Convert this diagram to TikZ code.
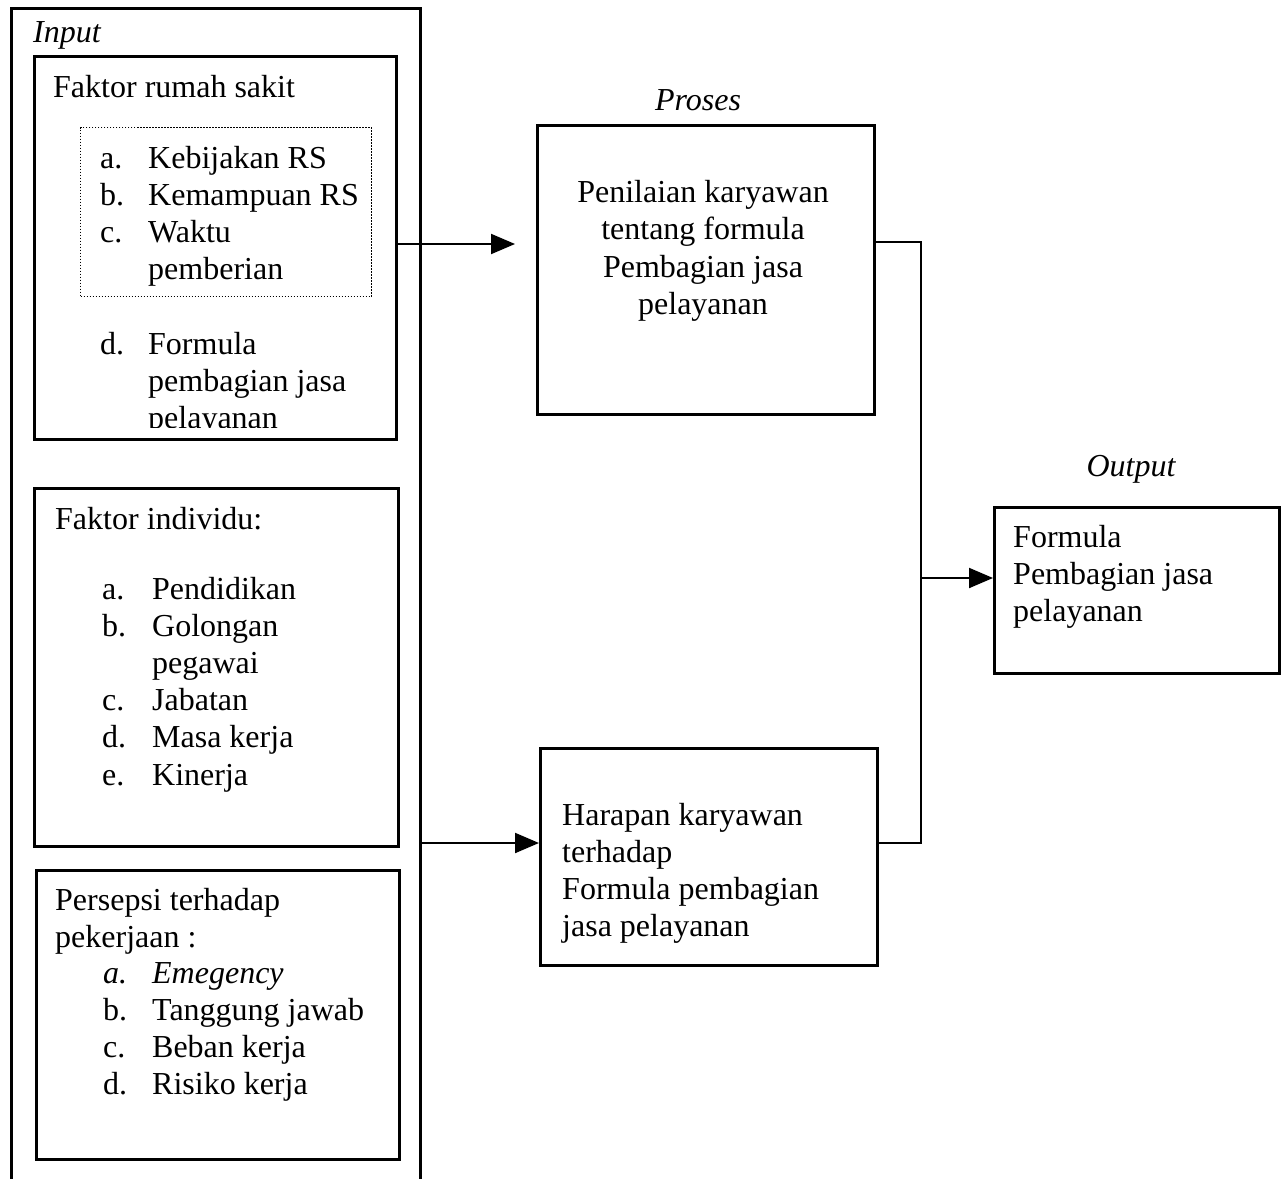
\documentclass[tikz,border=0pt]{standalone}
\usepackage{fontspec}
\setmainfont{Liberation Serif}
\usetikzlibrary{arrows.meta}
\begin{document}
\begin{tikzpicture}[x=1pt,y=-1pt,
  frame/.style={draw, line width=2.6pt, rectangle, inner sep=0pt, anchor=north west},
  dotbox/.style={draw, line width=1pt, dash pattern=on 1.5pt off 1.5pt, rectangle, inner sep=0pt, anchor=north west},
  txt/.style={inner sep=0pt, anchor=base west, font=\fontsize{32}{37.2}\selectfont},
  ctxt/.style={inner sep=0pt, anchor=base, font=\fontsize{32}{37.2}\selectfont},
  conn/.style={line width=2pt},
  arr/.style={line width=2pt, -{Triangle[length=24pt,width=20pt]}}]
\clip (0,0) rectangle (1281,1178);
\fill[white] (0,0) rectangle (1281,1178);

% frames
\node[frame, line width=2.8pt, minimum width=409pt, minimum height=1220pt] (outer) at (10,7) {};
\node[frame, minimum width=362pt, minimum height=383pt] (box1) at (33,55) {};
\node[dotbox, minimum width=291pt, minimum height=169pt] (dots) at (80,127) {};
\node[frame, minimum width=364pt, minimum height=358pt] (box2) at (33,487) {};
\node[frame, minimum width=363pt, minimum height=289pt] (box3) at (35,869) {};
\node[frame, minimum width=337pt, minimum height=289pt] (proses) at (536,124) {};
\node[frame, minimum width=337pt, minimum height=217pt] (harapan) at (539,747) {};
\node[frame, minimum width=285pt, minimum height=166pt] (output) at (993,506) {};

% labels
\node[txt, font=\fontsize{32}{37.2}\selectfont\itshape] (linput) at (33,42) {Input};
\node[ctxt, font=\fontsize{32}{37.2}\selectfont\itshape] (lproses) at (698,110) {Proses};
\node[ctxt, font=\fontsize{32}{37.2}\selectfont\itshape] (loutput) at (1131,476) {Output};

% box 1
\node[txt] (t1a) at (53,97) {Faktor rumah sakit};
\begin{scope}
\clip (33,55) rectangle (395,427);
\node[txt] (t1b) at (100,168) {\begin{tabular}[t]{@{}p{48pt}@{}l@{}}
a. & Kebijakan RS\\
b. & Kemampuan RS\\
c. & Waktu\\
   & pemberian\\
   & \\
d. & Formula\\
   & pembagian jasa\\
   & pelayanan
\end{tabular}};
\end{scope}

% box 2
\node[txt] (t2a) at (55,529) {Faktor individu:};
\node[txt] (t2b) at (102,599) {\begin{tabular}[t]{@{}p{50pt}@{}l@{}}
a. & Pendidikan\\
b. & Golongan\\
   & pegawai\\
c. & Jabatan\\
d. & Masa kerja\\
e. & Kinerja
\end{tabular}};

% box 3
\node[txt] (t3a) at (55,910) {\begin{tabular}[t]{@{}l@{}}
Persepsi terhadap\\
pekerjaan :
\end{tabular}};
\node[txt] (t3b) at (103,983) {\begin{tabular}[t]{@{}p{49pt}@{}l@{}}
\textit{a.} & \textit{Emegency}\\
b. & Tanggung jawab\\
c. & Beban kerja\\
d. & Risiko kerja
\end{tabular}};

% proses text
\node[ctxt, font=\fontsize{32}{37.6}\selectfont] (tp) at (703,202) {\begin{tabular}[t]{@{}c@{}}
Penilaian karyawan\\
tentang formula\\
Pembagian jasa\\
pelayanan
\end{tabular}};

% harapan text
\node[txt] (th) at (562,825) {\begin{tabular}[t]{@{}l@{}}
Harapan karyawan\\
terhadap\\
Formula pembagian\\
jasa pelayanan
\end{tabular}};

% output text
\node[txt] (to) at (1013,547) {\begin{tabular}[t]{@{}l@{}}
Formula\\
Pembagian jasa\\
pelayanan
\end{tabular}};

% connectors
\coordinate (a1) at (515,244);
\coordinate (a2) at (540,843);
\coordinate (p1) at (921,242);
\coordinate (p3) at (921,843);
\coordinate (jx) at (921,578);
\draw[arr] (box1.east |- a1) -- (a1);
\draw[arr] (outer.east |- a2) -- (harapan.west |- a2);
\draw[conn] (proses.east |- p1) -- (p1) -- (p3) -- (harapan.east |- p3);
\draw[arr] (jx) -- (output.west |- jx);
\end{tikzpicture}
\end{document}
